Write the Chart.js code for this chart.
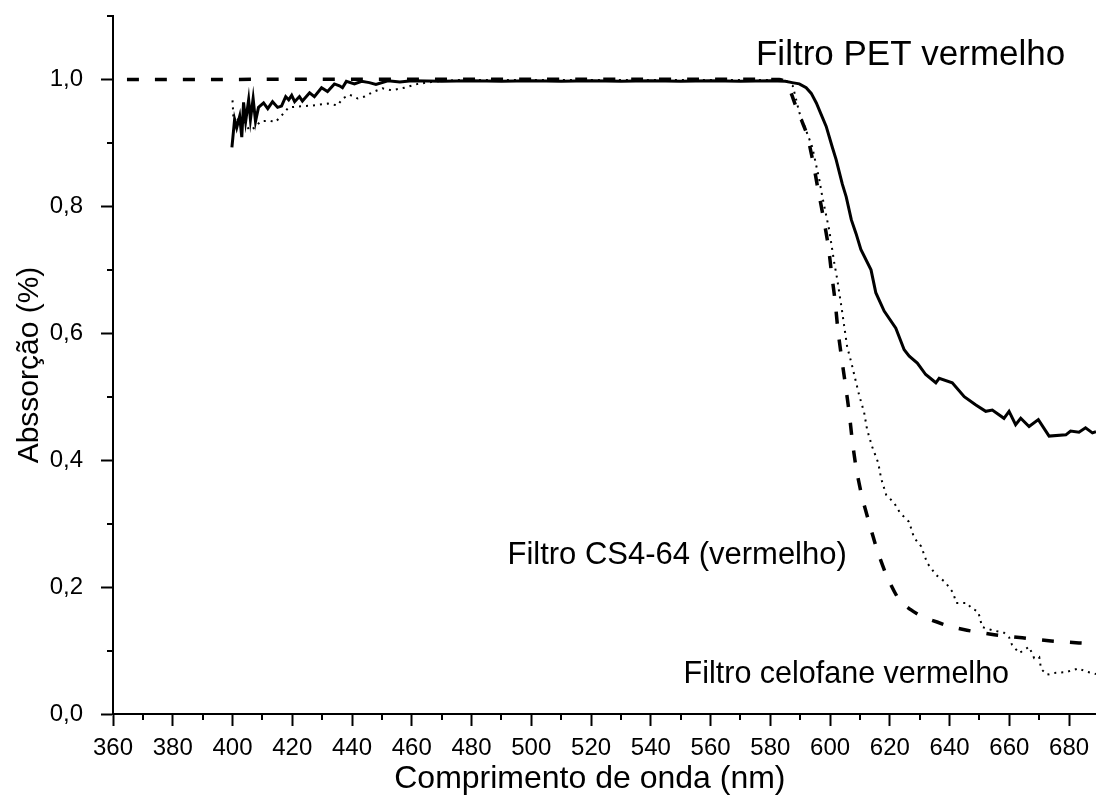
<!DOCTYPE html>
<html>
<head>
<meta charset="utf-8">
<script src="https://cdn.jsdelivr.net/npm/chart.js@4.4.1/dist/chart.umd.min.js"></script>
<style>
  html, body { margin: 0; padding: 0; background: #ffffff; }
  #wrap { width: 1096px; height: 810px; position: relative; }
</style>
</head>
<body>
<div id="wrap"><canvas id="chart"></canvas></div>
<script>
// Absorption spectra of three red filters (wavelength in nm, absorption fraction)
const petNm = [399.8, 400.7, 401.4, 402.4, 403.1, 403.7, 404.4, 405.4, 406.0, 406.9, 407.7, 408.7, 410.4, 411.8,
  413.4, 415.1, 416.4, 417.8, 418.8, 419.8, 420.8, 422.4, 423.4, 425.8, 427.4, 429.8, 431.8, 434.1, 435.8, 436.8,
  438.1, 440.8, 443.2, 445.8, 448.0, 452, 456, 460, 470, 480, 490, 500, 510, 520, 530, 540, 550, 560, 570, 580,
  585, 587.3, 589.7, 592.0, 593.7, 595.4, 597.0, 598.7, 600.7, 602.0, 604.1, 605.4, 607.1, 608.7, 610.3, 613.7,
  615.3, 618.1, 622.0, 624.8, 626.5, 629.2, 632.0, 635.4, 636.5, 640.9, 644.9, 648.8, 652.1, 654.3, 658.2, 659.9,
  662.1, 663.8, 666.6, 669.7, 673.3, 678.9, 680.5, 683.3, 685.5, 687.8, 689];
const petAbs = [0.893, 0.937, 0.924, 0.942, 0.909, 0.964, 0.934, 0.968, 0.937, 0.970, 0.934, 0.956, 0.963, 0.954,
  0.965, 0.956, 0.958, 0.973, 0.968, 0.975, 0.965, 0.973, 0.966, 0.979, 0.973, 0.987, 0.981, 0.993, 0.990, 0.987,
  0.997, 0.993, 0.997, 0.995, 0.992, 0.998, 0.996, 0.998, 0.997, 0.998, 0.997, 0.998, 0.997, 0.998, 0.997, 0.998,
  0.997, 0.998, 0.997, 0.998, 0.997, 0.995, 0.993, 0.987, 0.978, 0.963, 0.945, 0.926, 0.894, 0.874, 0.835, 0.815,
  0.779, 0.757, 0.732, 0.700, 0.664, 0.635, 0.608, 0.574, 0.564, 0.553, 0.535, 0.522, 0.529, 0.522, 0.500, 0.487,
  0.477, 0.479, 0.466, 0.477, 0.456, 0.466, 0.453, 0.464, 0.438, 0.440, 0.446, 0.444, 0.451, 0.443, 0.445];

const cs4Nm = [360, 583, 585.5, 587, 588.6, 590.5, 592.3, 594.3, 596.0, 597.7, 599.4, 600.5, 601.7, 602.6, 603.8,
  605.1, 606.4, 607.4, 608.7, 610.7, 613.1, 615.7, 619.1, 623.1, 627.1, 631.0, 635.8, 640.0, 645.8, 654.9, 664.3,
  674.0, 683.3, 689];
const cs4Abs = [1.000, 1.000, 0.995, 0.978, 0.957, 0.935, 0.913, 0.870, 0.826, 0.784, 0.738, 0.694, 0.650, 0.606,
  0.563, 0.520, 0.475, 0.432, 0.388, 0.342, 0.301, 0.259, 0.216, 0.180, 0.164, 0.153, 0.145, 0.138, 0.132, 0.125,
  0.120, 0.115, 0.112, 0.111];

const celNm = [400.0, 400.3, 404.0, 405.7, 407.4, 409.4, 412.4, 414.4, 416.4, 418.8, 421.4, 423.4, 426.8, 431.8,
  435.2, 436.8, 439.2, 441.9, 444.2, 446.9, 450.2, 453.2, 457.6, 462, 468, 475, 585, 587.5, 589.7, 594.0, 596.4,
  597.4, 599.7, 601.4, 602.4, 604.1, 605.7, 607.1, 609.7, 611.4, 612.4, 614.1, 616.1, 617.1, 618.8, 621.4, 623.4,
  626.4, 628.1, 630.5, 632.5, 635.5, 638.5, 641.2, 642.2, 645.9, 647.2, 649.6, 650.9, 654.3, 658.2, 659.9, 660.9,
  663.3, 666.6, 668.3, 670.0, 670.6, 672.6, 675.6, 679.0, 681.0, 683.3, 685.0, 687.3, 689];
const celAbs = [0.967, 0.940, 0.932, 0.920, 0.924, 0.934, 0.935, 0.933, 0.943, 0.956, 0.957, 0.958, 0.959, 0.962,
  0.959, 0.970, 0.976, 0.970, 0.973, 0.980, 0.986, 0.983, 0.987, 0.993, 0.997, 0.999, 0.999, 0.990, 0.948, 0.894,
  0.842, 0.815, 0.763, 0.711, 0.685, 0.632, 0.579, 0.554, 0.503, 0.475, 0.448, 0.421, 0.396, 0.371, 0.345, 0.333,
  0.317, 0.303, 0.278, 0.264, 0.238, 0.219, 0.208, 0.191, 0.175, 0.175, 0.167, 0.161, 0.137, 0.132, 0.128, 0.121,
  0.109, 0.096, 0.106, 0.088, 0.090, 0.071, 0.062, 0.065, 0.066, 0.069, 0.072, 0.068, 0.065, 0.063];

const xTicks = [360, 380, 400, 420, 440, 460, 480, 500, 520, 540, 560, 580, 600, 620, 640, 660, 680];
const xMinorTicks = [370, 390, 410, 430, 450, 470, 490, 510, 530, 550, 570, 590, 610, 630, 650, 670];
const yTicks = [0.0, 0.2, 0.4, 0.6, 0.8, 1.0];
const yMinorTicks = [0.1, 0.3, 0.5, 0.7, 0.9, 1.1];

const seriesLabels = ['Filtro PET vermelho', 'Filtro CS4-64 (vermelho)', 'Filtro celofane vermelho'];
const xTitle = 'Comprimento de onda (nm)';
const yTitle = 'Abssorção (%)';

const FONT = '"Liberation Sans", Arial, Helvetica, sans-serif';

function toPoints(xs, ys) {
  return xs.map((x, i) => ({ x: x, y: ys[i] }));
}

// Curve captions, anchored in data units
const captions = [
  { text: seriesLabels[0], x: 575.2, y: 1.023, align: 'left', size: 35 },
  { text: seriesLabels[1], x: 605.6, y: 0.236, align: 'right', size: 31 },
  { text: seriesLabels[2], x: 659.9, y: 0.049, align: 'right', size: 30.5 }
];

const decorations = {
  id: 'decorations',
  afterDraw(chart) {
    const ctx = chart.ctx;
    const xs = chart.scales.x, ys = chart.scales.y;
    const area = chart.chartArea;
    ctx.save();
    // minor tick marks
    ctx.strokeStyle = '#000';
    ctx.lineWidth = 2;
    ctx.beginPath();
    xMinorTicks.forEach(v => {
      const px = Math.round(xs.getPixelForValue(v));
      ctx.moveTo(px, area.bottom);
      ctx.lineTo(px, area.bottom + 6);
    });
    yMinorTicks.forEach(v => {
      const py = Math.round(ys.getPixelForValue(v));
      ctx.moveTo(area.left - 6, py);
      ctx.lineTo(area.left, py);
    });
    ctx.stroke();

    ctx.fillStyle = '#000';
    ctx.textBaseline = 'alphabetic';
    captions.forEach(c => {
      ctx.font = c.size + 'px ' + FONT;
      ctx.textAlign = c.align;
      ctx.fillText(c.text, xs.getPixelForValue(c.x), ys.getPixelForValue(c.y));
    });

    // x axis title
    ctx.font = '32px ' + FONT;
    ctx.textAlign = 'center';
    ctx.textBaseline = 'middle';
    ctx.fillText(xTitle, xs.getPixelForValue(519.6), area.bottom + 65);
    ctx.restore();
  }
};

new Chart(document.getElementById('chart'), {
  type: 'line',
  data: {
    datasets: [
      {
        label: seriesLabels[0],
        data: toPoints(petNm, petAbs),
        borderColor: '#000',
        borderWidth: 3,
        pointRadius: 0,
        tension: 0,
        fill: false
      },
      {
        label: seriesLabels[1],
        data: toPoints(cs4Nm, cs4Abs),
        borderColor: '#000',
        borderWidth: 3.5,
        borderDash: [12, 16],
        borderDashOffset: 14,
        borderCapStyle: 'butt',
        pointRadius: 0,
        tension: 0.2,
        fill: false
      },
      {
        label: seriesLabels[2],
        data: toPoints(celNm, celAbs),
        borderColor: '#000',
        borderWidth: 2,
        borderDash: [2, 5],
        borderCapStyle: 'butt',
        pointRadius: 0,
        tension: 0,
        fill: false
      }
    ]
  },
  options: {
    responsive: true,
    maintainAspectRatio: false,
    animation: false,
    layout: { padding: { top: 16, right: 0, bottom: 0, left: 0 } },
    plugins: {
      legend: { display: false },
      tooltip: { enabled: false }
    },
    scales: {
      x: {
        type: 'linear',
        min: 360,
        max: 689,
        afterBuildTicks: s => { s.ticks = xTicks.map(v => ({ value: v })); },
        afterFit: s => { s.height = 96; s.paddingLeft = 0; s.paddingRight = 0; },
        ticks: {
          color: '#000',
          font: { family: FONT, size: 24 },
          padding: 8,
          maxRotation: 0,
          autoSkip: false,
          callback: v => String(v)
        },
        grid: {
          drawOnChartArea: false,
          drawTicks: true,
          tickLength: 12,
          tickWidth: 2,
          tickColor: '#000'
        },
        border: { display: true, color: '#000', width: 2 },
        title: { display: false }
      },
      y: {
        type: 'linear',
        min: 0,
        max: 1.1,
        afterBuildTicks: s => { s.ticks = yTicks.map(v => ({ value: v })); },
        afterFit: s => { s.width = 113; s.paddingTop = 0; s.paddingBottom = 0; },
        ticks: {
          color: '#000',
          font: { family: FONT, size: 24 },
          padding: 18,
          callback: v => Number(v).toFixed(1).replace('.', ',')
        },
        grid: {
          drawOnChartArea: false,
          drawTicks: true,
          tickLength: 12,
          tickWidth: 2,
          tickColor: '#000'
        },
        border: { display: true, color: '#000', width: 2 },
        title: {
          display: true,
          text: yTitle,
          color: '#000',
          font: { family: FONT, size: 30 },
          padding: { top: 12, bottom: 0 }
        }
      }
    }
  },
  plugins: [decorations]
});
</script>
</body>
</html>
